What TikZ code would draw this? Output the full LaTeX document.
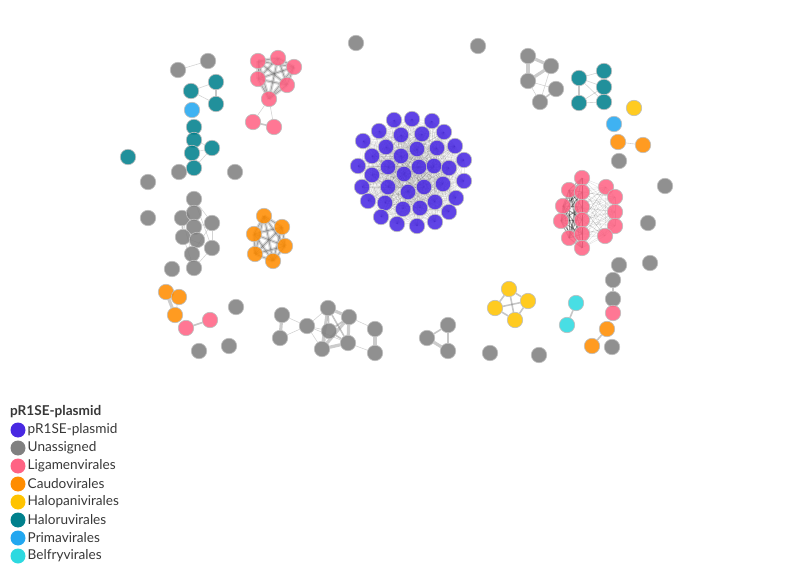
\documentclass[tikz,border=0pt]{standalone}
\usepackage{fontspec}
\setmainfont{Lato}
\pgfdeclarelayer{bg}
\pgfsetlayers{bg,main}
\definecolor{cplas}{RGB}{72,40,226}
\definecolor{cuna}{RGB}{128,128,128}
\definecolor{clig}{RGB}{255,99,132}
\definecolor{ccau}{RGB}{255,140,0}
\definecolor{chp}{RGB}{255,195,0}
\definecolor{chr}{RGB}{0,128,140}
\definecolor{cpri}{RGB}{34,167,240}
\definecolor{cbel}{RGB}{45,217,224}
\tikzset{
  nd/.style={circle,inner sep=0pt,minimum size=15.5pt,draw=black!25,line width=0.6pt,fill opacity=0.87},
  e/.style={draw=gray,line width=0.6pt,opacity=0.35},
  em/.style={draw=gray,line width=1.6pt,opacity=0.45},
  ew/.style={draw=gray,line width=3.2pt,opacity=0.4},
  cl/.style={draw=black,line width=0.4pt,opacity=0.07},
  lg/.style={circle,inner sep=0pt,minimum size=15pt},
  lt/.style={anchor=west,inner sep=0pt,font=\fontsize{13.6}{16}\selectfont,text=black!78}
}
\begin{document}
\begin{tikzpicture}[x=1pt,y=-1pt]
\useasboundingbox (0,0) rectangle (796,575);
% plasmid cluster
\foreach \x/\y [count=\i] in {394/120,412/119,432/121,379/131,401/135,422/134,444/132,363/141,386/147,417/149,437/148,455/146,372/156,401/156,464/160,358/166,388/167,419/167,434/166,449/168,404/174,372/175,362/187,388/187,408/192,424/187,443/184,464/181,368/201,385/203,403/209,420/208,435/202,456/198,381/217,397/224,417/226,435/222,449/212}
  \node[nd,fill=cplas] (bl\i) at (\x,\y) {};
% right Ligamenvirales cluster
\foreach \x/\y [count=\i] in {582/178,569/190,582/192,563/206,582/207,561/221,582/220,569/238,582/234,582/248,606/187,615/197,615/212,615/226,605/236}
  \node[nd,fill=clig] (r\i) at (\x,\y) {};
% top-left
\node[nd,fill=cuna] (g1) at (178,70) {};
\node[nd,fill=cuna] (g2) at (208,61) {};
\node[nd,fill=chr] (t1) at (216,82) {};
\node[nd,fill=chr] (t2) at (191,91) {};
\node[nd,fill=chr] (t3) at (216,104) {};
\node[nd,fill=cpri] (p1) at (192,110) {};
\node[nd,fill=chr] (t4) at (194,127) {};
\node[nd,fill=chr] (t5) at (194,140) {};
\node[nd,fill=chr] (t6) at (192,153) {};
\node[nd,fill=chr] (t7) at (212,148) {};
\node[nd,fill=chr] (t8) at (194,168) {};
\node[nd,fill=cuna] (g3) at (179,172) {};
\node[nd,fill=cuna] (g4) at (235,172) {};
\foreach \x/\y [count=\i] in {258/61,278/58,294/67,258/79,287/85,269/99}
  \node[nd,fill=clig] (l\i) at (\x,\y) {};
\node[nd,fill=clig] (l7) at (253,122) {};
\node[nd,fill=clig] (l8) at (274,127) {};
\node[nd,fill=cuna] (g5) at (356,43) {};
\node[nd,fill=cuna] (g6) at (478,46) {};
\node[nd,fill=chr] (t9) at (128,157) {};
\node[nd,fill=cuna] (g7) at (148,182) {};
\node[nd,fill=cuna] (g8) at (148,218) {};
% left gray cluster
\foreach \x/\y [count=\i] in {194/199,182/218,194/213,212/223,194/227,183/237,197/240,212/248,192/254,194/268}
  \node[nd,fill=cuna] (a\i) at (\x,\y) {};
\node[nd,fill=cuna] (g9) at (172,269) {};
% orange cluster
\foreach \x/\y [count=\i] in {264/216,282/227,254/234,285/246,255/254,273/261}
  \node[nd,fill=ccau] (o\i) at (\x,\y) {};
\node[nd,fill=ccau] (o7) at (166,292) {};
\node[nd,fill=ccau] (o8) at (179,297) {};
\node[nd,fill=ccau] (o9) at (175,315) {};
\node[nd,fill=clig] (l9) at (186,328) {};
\node[nd,fill=clig] (l10) at (210,320) {};
\node[nd,fill=cuna] (g10) at (236,307) {};
\node[nd,fill=cuna] (g11) at (199,351) {};
\node[nd,fill=cuna] (g12) at (229,346) {};
% bottom middle gray
\foreach \x/\y [count=\i] in {282/315,280/338,307/326,328/308,349/317,329/331,322/349,348/343,375/329,375/353}
  \node[nd,fill=cuna] (b\i) at (\x,\y) {};
\node[nd,fill=cuna] (c1) at (448,325) {};
\node[nd,fill=cuna] (c2) at (427,338) {};
\node[nd,fill=cuna] (c3) at (448,351) {};
\node[nd,fill=cuna] (g13) at (490,353) {};
\node[nd,fill=cuna] (g14) at (539,355) {};
% top right
\node[nd,fill=cuna] (d1) at (528,56) {};
\node[nd,fill=cuna] (d2) at (551,66) {};
\node[nd,fill=cuna] (d3) at (528,81) {};
\node[nd,fill=cuna] (d4) at (556,89) {};
\node[nd,fill=cuna] (d5) at (540,102) {};
\node[nd,fill=chr] (t10) at (579,78) {};
\node[nd,fill=chr] (t11) at (604,71) {};
\node[nd,fill=chr] (t12) at (604,87) {};
\node[nd,fill=chr] (t13) at (579,103) {};
\node[nd,fill=chr] (t14) at (604,102) {};
\node[nd,fill=chp] (y1) at (634,108) {};
\node[nd,fill=cpri] (p2) at (614,124) {};
\node[nd,fill=ccau] (o10) at (618,142) {};
\node[nd,fill=ccau] (o11) at (643,145) {};
\node[nd,fill=cuna] (g15) at (619,161) {};
\node[nd,fill=cuna] (g16) at (665,186) {};
\node[nd,fill=cuna] (g17) at (648,223) {};
\node[nd,fill=cuna] (g18) at (650,263) {};
\node[nd,fill=cuna] (g19) at (619,265) {};
% bottom right
\node[nd,fill=chp] (y2) at (509,289) {};
\node[nd,fill=chp] (y3) at (528,301) {};
\node[nd,fill=chp] (y4) at (495,308) {};
\node[nd,fill=chp] (y5) at (515,320) {};
\node[nd,fill=cbel] (bf1) at (576,303) {};
\node[nd,fill=cbel] (bf2) at (567,325) {};
\node[nd,fill=cuna] (g20) at (613,280) {};
\node[nd,fill=cuna] (g21) at (613,299) {};
\node[nd,fill=clig] (l11) at (613,313) {};
\node[nd,fill=ccau] (o12) at (607,329) {};
\node[nd,fill=ccau] (o13) at (592,346) {};
\node[nd,fill=cuna] (g22) at (612,347) {};
% edges
\begin{pgfonlayer}{bg}
\foreach \i in {1,...,38}{
  \pgfmathtruncatemacro\k{\i+1}
  \foreach \j in {\k,...,39}{\draw[cl] (bl\i.center) -- (bl\j.center);}}
\foreach \i in {1,...,14}{
  \pgfmathtruncatemacro\k{\i+1}
  \foreach \j in {\k,...,15}{\draw[cl,opacity=0.12] (r\i.center) -- (r\j.center);}}
\foreach \i in {1,...,9}{
  \pgfmathtruncatemacro\k{\i+1}
  \foreach \j in {\k,...,10}{\draw[draw=black,line width=1pt,opacity=0.3] (r\i.center) -- (r\j.center);}}
\foreach \i in {1,...,5}{
  \pgfmathtruncatemacro\k{\i+1}
  \foreach \j in {\k,...,6}{\draw[ew,opacity=0.3] (l\i.center) -- (l\j.center); \draw[draw=black!70,line width=0.5pt,opacity=0.5] (l\i.center) -- (l\j.center);}}
\foreach \i in {1,...,5}{
  \pgfmathtruncatemacro\k{\i+1}
  \foreach \j in {\k,...,6}{\draw[ew,opacity=0.3] (o\i.center) -- (o\j.center); \draw[draw=black!70,line width=0.5pt,opacity=0.5] (o\i.center) -- (o\j.center);}}
\draw[e] (g1) -- (g2);
\draw[e] (t2) -- (t1); \draw[e] (t2) -- (t3); \draw[em] (t1) -- (t3);
\draw[em] (t4) -- (t5); \draw[em] (t5) -- (t6); \draw[em] (t6) -- (t8);
\draw[e] (t7) -- (t5); \draw[e] (t7) -- (t6); \draw[e] (t7) -- (t8);
\draw[e] (l6) -- (l7); \draw[e] (l6) -- (l8); \draw[em] (l7) -- (l8);
\draw[ew] (a1) -- (a3); \draw[ew] (a3) -- (a5); \draw[ew] (a5) -- (a7); \draw[ew] (a7) -- (a9); \draw[ew] (a9) -- (a10);
\draw[e] (a1) -- (a4); \draw[e] (a1) -- (a8); \draw[e] (a4) -- (a8); \draw[em] (a2) -- (a6);
\draw[e] (a2) -- (a5); \draw[e] (a4) -- (a9); \draw[e] (a8) -- (a10); \draw[e] (a6) -- (a10);
\draw[e] (a2) -- (a1); \draw[e] (a4) -- (a5); \draw[e] (a6) -- (a8); \draw[e] (a2) -- (a9);
\draw[ew] (o7) -- (o9); \draw[e] (o8) -- (o9); \draw[e] (o7) -- (o8);
\draw[em] (l9) -- (l10);
\draw[ew] (b1) -- (b2); \draw[e] (b1) -- (b3); \draw[e] (b2) -- (b3);
\draw[e] (b3) -- (b6); \draw[e] (b3) -- (b7); \draw[e] (b3) -- (b4); \draw[e] (b3) -- (b8);
\draw[ew] (b4) -- (b5); \draw[em] (b4) -- (b6); \draw[ew] (b4) -- (b7); \draw[em] (b5) -- (b6);
\draw[ew] (b5) -- (b7); \draw[ew] (b5) -- (b8); \draw[em] (b6) -- (b8); \draw[ew] (b7) -- (b8);
\draw[em] (b4) -- (b8); \draw[e] (b6) -- (b7);
\draw[e] (b5) -- (b9); \draw[e] (b8) -- (b10); \draw[ew] (b9) -- (b10);
\draw[em] (c1) -- (c2); \draw[ew] (c2) -- (c3); \draw[em] (c1) -- (c3);
\draw[ew] (d1) -- (d2); \draw[ew] (d1) -- (d3); \draw[ew] (d2) -- (d3);
\draw[e] (d3) -- (d5); \draw[e] (d2) -- (d5); \draw[em] (d4) -- (d5); \draw[e] (d3) -- (d4);
\draw[em] (t10) -- (t13); \draw[e] (t10) -- (t11); \draw[e] (t10) -- (t12); \draw[e] (t10) -- (t14);
\draw[e] (t13) -- (t12); \draw[e] (t13) -- (t14); \draw[e] (t11) -- (t12); \draw[e] (t12) -- (t14);
\draw[e] (o10) -- (o11);
\draw[em] (y2) -- (y3); \draw[em] (y2) -- (y4); \draw[em] (y2) -- (y5);
\draw[em] (y3) -- (y4); \draw[em] (y3) -- (y5); \draw[em] (y4) -- (y5);
\draw[em] (bf1) -- (bf2);
\draw[em] (g20) -- (g21); \draw[em] (o12) -- (o13);
\end{pgfonlayer}
% legend
\node[lt,font=\fontsize{13.6}{16}\selectfont\bfseries] (lgt) at (10,412) {pR1SE-plasmid};
\foreach \c/\t [count=\i] in {cplas/pR1SE-plasmid,cuna/Unassigned,clig/Ligamenvirales,ccau/Caudovirales,chp/Halopanivirales,chr/Haloruvirales,cpri/Primavirales,cbel/Belfryvirales}{
  \node[lg,fill=\c] (lc\i) at (18,412+18*\i) {};
  \node[lt] (lx\i) at (27.5,412+18*\i) {\t};
}
\end{tikzpicture}
\end{document}
